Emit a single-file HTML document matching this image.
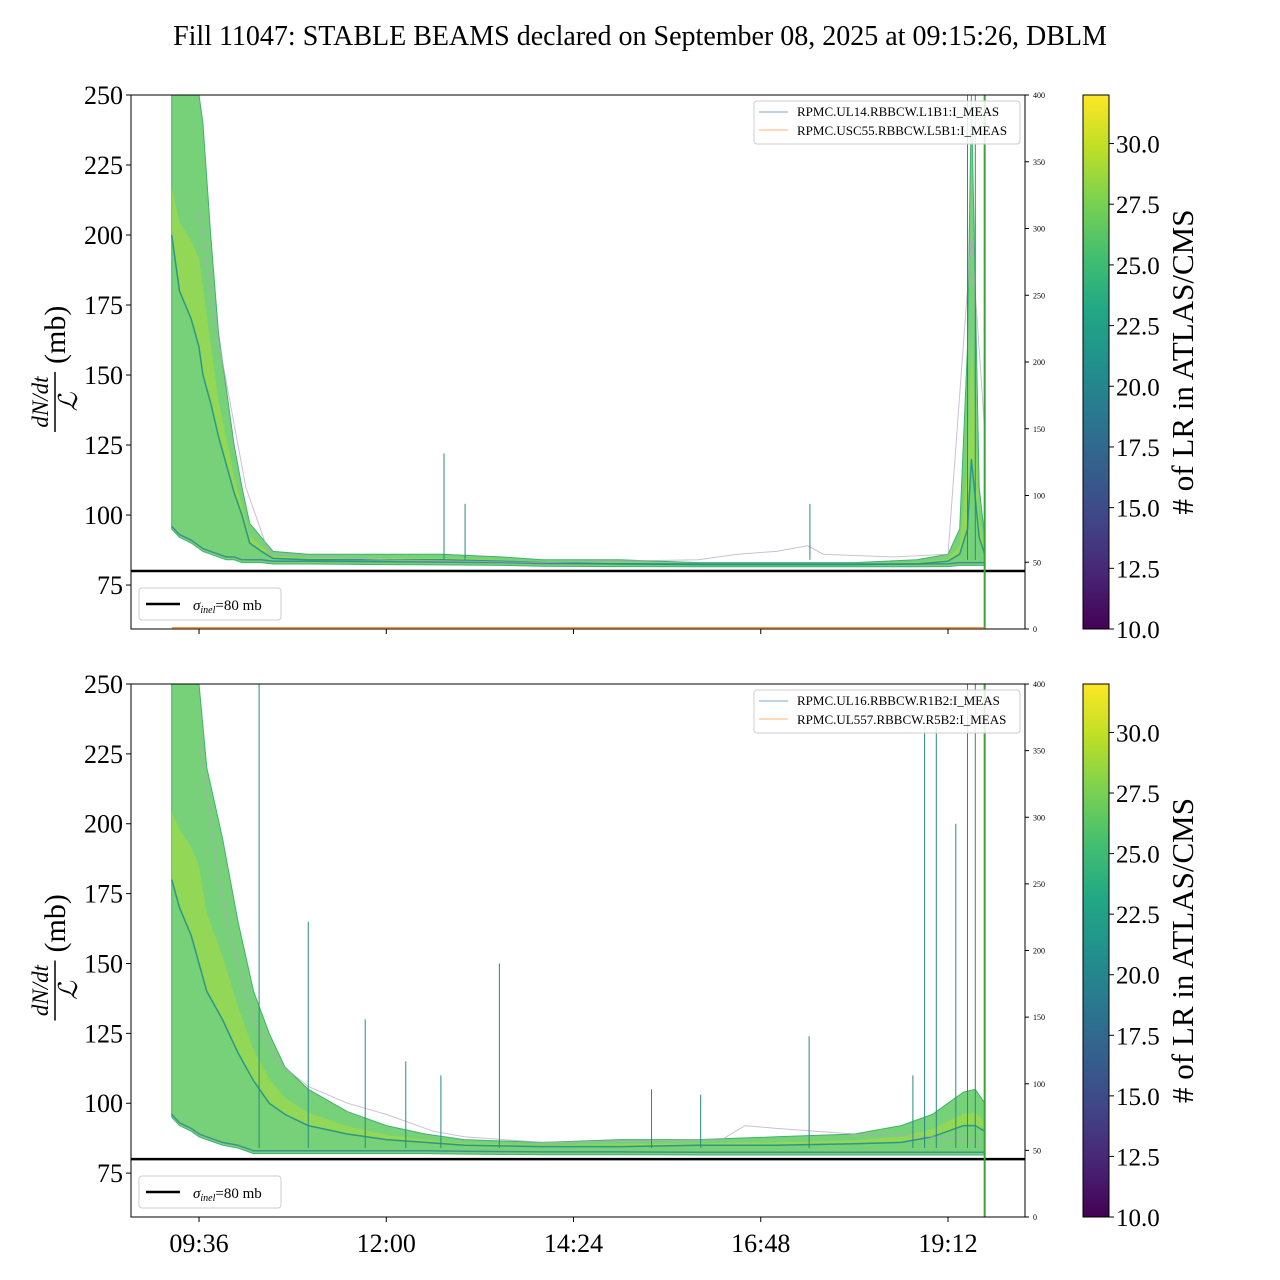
<!DOCTYPE html>
<html><head><meta charset="utf-8">
<style>
html,body{margin:0;padding:0;background:#fff;}
svg{display:block;font-family:"Liberation Serif","DejaVu Serif",serif;}
</style></head>
<body>
<svg id="chart" width="1280" height="1280" viewBox="0 0 1280 1280" xmlns="http://www.w3.org/2000/svg">
<defs>
<linearGradient id="viridis" x1="0" y1="1" x2="0" y2="0">
<stop offset="0" stop-color="#440154"/><stop offset="0.1" stop-color="#482475"/>
<stop offset="0.2" stop-color="#414487"/><stop offset="0.3" stop-color="#355f8d"/>
<stop offset="0.4" stop-color="#2a788e"/><stop offset="0.5" stop-color="#21918c"/>
<stop offset="0.6" stop-color="#22a884"/><stop offset="0.7" stop-color="#44bf70"/>
<stop offset="0.8" stop-color="#7ad151"/><stop offset="0.9" stop-color="#bddf26"/>
<stop offset="1" stop-color="#fde725"/>
</linearGradient>
</defs>
<text x="640" y="45" font-size="28" text-anchor="middle">Fill 11047: STABLE BEAMS declared on September 08, 2025 at 09:15:26, DBLM</text>
<g id="root"></g>
</svg>
<script>
// ---- data (time in decimal hours) ----
const xTickLabels = ["09:36","12:00","14:24","16:48","19:12"];
const xTickHours = [9.6, 12.0, 14.4, 16.8, 19.2];
const yTicks = [75,100,125,150,175,200,225,250];
const rightTicks = [0,50,100,150,200,250,300,350,400];
const cbTicks = [10.0,12.5,15.0,17.5,20.0,22.5,25.0,27.5,30.0];
const sigmaInel = 80;
const dumpHour = 19.67;

// top panel
const topT     = [9.25,9.35,9.5,9.6,9.65,9.75,9.85,9.95,10.05,10.15,10.25,10.4,10.55,11.0,12.0,12.7,13.5,14.0,15.0,16.0,17.0,18.0,18.8,19.2,19.35,19.45,19.5,19.6,19.67];
const topUpper = [250,250,250,250,240,200,165,145,125,110,97,92,87,86,86,86,85,84,84,83,83,83,84,86,95,160,250,110,92];
const topLower = [95,92,90,88,87,86,85,84,84,83,83,83,82.5,82.5,82.3,82.2,82,81.7,81.6,81.5,81.5,81.5,81.5,81.6,82,82,82,82,82];
const topCore  = [200,180,170,160,150,140,128,118,108,100,90,87,84.5,84,84,84,83.5,83,82.5,82.3,82.3,82.3,82.5,83.5,86,95,120,92,86];
const topPurpleT = [9.6,9.8,10.0,10.2,10.5,12,14,16.0,16.5,17.0,17.4,17.6,18.5,19.2,19.5,19.67];
const topPurple  = [210,170,140,110,86,84,83,84,86,87,89,86,85,86,200,130];
const topSpikeT = [12.74,13.01,17.43,19.45,19.55];
const topSpikeV = [122,104,104,250,250];

// bottom panel
const botT     = [9.25,9.35,9.5,9.6,9.7,9.9,10.1,10.3,10.5,10.7,11.0,11.5,12.0,12.5,13.0,14.0,15.0,16.0,17.0,18.0,18.6,19.0,19.2,19.4,19.55,19.67];
const botUpper = [250,250,250,250,220,195,165,140,125,113,105,97,92,89,87,86,87,87,88,89,92,96,100,104,105,100];
const botLower = [95,92,90,88,87,85,84,82,82,82,82,82,82,82,81.8,81.6,81.6,81.5,81.5,81.5,81.5,81.5,81.5,81.5,81.5,81.5];
const botCore  = [180,170,160,150,140,130,118,108,100,96,92,89,87,86,85,84.5,84.5,85,85,85.5,86,88,90,92,92,90];
const botPurpleT = [9.6,9.8,10.0,10.3,10.6,11.0,11.5,12.0,12.6,13,14,16.3,16.6,17.0,17.5,18,19.0,19.67];
const botPurple  = [230,190,160,130,115,106,100,96,90,88,86,87,92,91,90,89,88,86];
const botSpikeT = [10.37,11.0,11.73,12.25,12.7,13.45,15.4,16.03,17.42,18.75,18.9,19.05,19.3,19.45,19.55];
const botSpikeV = [250,165,130,115,110,150,105,103,124,110,235,235,200,250,250];

// ---- scales ----
const X0=131, X1=1025, XMIN=8.728, XMAX=20.187;
const YMIN=59.3, YMAX=250;
function xs(h){return X0+(h-XMIN)/(XMAX-XMIN)*(X1-X0);}
function ysF(top,bot){return v=>bot-(v-YMIN)/(YMAX-YMIN)*(bot-top);}
const NS="http://www.w3.org/2000/svg";
const root=document.getElementById('root');
function el(tag,attrs,parent,txt){const e=document.createElementNS(NS,tag);for(const k in attrs)e.setAttribute(k,attrs[k]);if(txt!==undefined)e.textContent=txt;(parent||root).appendChild(e);return e;}
function clampV(v){return Math.min(YMAX,Math.max(YMIN,v));}

function panel(top,bot,T,U,L,C,PT,PV,ST,SV,legendNames,prefix,showLabels){
  const ys=ysF(top,bot);
  const g=el('g',{});
  
  
  let d='M'+T.map((t,i)=>xs(t).toFixed(1)+','+ys(clampV(U[i])).toFixed(1)).join('L');
  for(let i=T.length-1;i>=0;i--) d+='L'+xs(T[i]).toFixed(1)+','+ys(clampV(L[i])).toFixed(1);
  const band=el('path',{d:d+'Z',fill:'#5ec962','fill-opacity':'0.85',stroke:'#3fb36f','stroke-width':'1'},g);
  
  
  let d2='M'+T.map((t,i)=>xs(t).toFixed(1)+','+ys(clampV(C[i]+(U[i]-C[i])*0.35)).toFixed(1)).join('L');
  for(let i=T.length-1;i>=0;i--) d2+='L'+xs(T[i]).toFixed(1)+','+ys(clampV(C[i])).toFixed(1);
  const yb=el('path',{d:d2+'Z',fill:'#b5de2b','fill-opacity':'0.45'},g);
  
  
  const le=el('polyline',{points:T.map((t,i)=>xs(t).toFixed(1)+','+ys(clampV(L[i]+1)).toFixed(1)).join(' '),fill:'none',stroke:'#2a788e','stroke-width':'1.5','stroke-opacity':'0.7'},g);
  
  
  const core=el('polyline',{points:T.map((t,i)=>xs(t).toFixed(1)+','+ys(clampV(C[i])).toFixed(1)).join(' '),fill:'none',stroke:'#21918c','stroke-width':'1.5','stroke-opacity':'0.9'},g);
  
  
  const pl=el('polyline',{points:PT.map((t,i)=>xs(t).toFixed(1)+','+ys(clampV(PV[i])).toFixed(1)).join(' '),fill:'none',stroke:'#b9a3c6','stroke-width':'1','stroke-opacity':'0.7'},g);
  
  
  ST.forEach((t,i)=>{
    const s=el('line',{x1:xs(t),x2:xs(t),y1:ys(84),y2:ys(clampV(SV[i])),stroke:'#2a8a7e','stroke-width':'1'},g);
    
    
  });
  const sl=el('line',{x1:X0,x2:X1,y1:ys(sigmaInel),y2:ys(sigmaInel),stroke:'#000','stroke-width':'2.5'},g);
  
  
  const dl=el('line',{x1:xs(dumpHour),x2:xs(dumpHour),y1:top,y2:bot,stroke:'#3aa33a','stroke-width':'2'},g);
  
  
  const fr=el('rect',{x:X0,y:top,width:X1-X0,height:bot-top,fill:'none',stroke:'#000','stroke-width':'1'},g);
  
  
  yTicks.forEach(v=>{
    const y=ys(v);
    el('line',{x1:X0-5,x2:X0,y1:y,y2:y,stroke:'#000'},g);
    const t=el('text',{x:X0-8,y:y+9,'font-size':'26','text-anchor':'end'},g,String(v));
    
    
  });
  rightTicks.forEach(v=>{
    const y=bot-v/400*(bot-top);
    el('line',{x1:X1,x2:X1+4,y1:y,y2:y,stroke:'#000'},g);
    const t=el('text',{x:X1+8,y:y+3,'font-size':'8'},g,String(v));
    
    
  });
  xTickHours.forEach((h,i)=>{
    el('line',{x1:xs(h),x2:xs(h),y1:bot,y2:bot+5,stroke:'#000'},g);
    if(showLabels){
      const t=el('text',{x:xs(h),y:bot+35,'font-size':'26','text-anchor':'middle'},g,xTickLabels[i]);
      
      
    }
  });
  const yl=el('g',{transform:'translate(55,'+((top+bot)/2)+') rotate(-90)'},g);
  
  
  el('text',{x:-40,y:-7,'font-size':'23','font-style':'italic','text-anchor':'middle'},yl,'dN/dt');
  el('line',{x1:-70,x2:-10,y1:0,y2:0,stroke:'#000','stroke-width':'1.5'},yl);
  el('text',{x:-40,y:22,'font-size':'26','font-style':'italic','text-anchor':'middle'},yl,'ℒ');
  el('text',{x:-2,y:10,'font-size':'30'},yl,'(mb)');
  const lg=el('g',{},g);
  
  
  el('rect',{x:139,y:bot-41,width:142,height:32,rx:3,fill:'#fff',stroke:'#ccc'},lg);
  el('line',{x1:146,x2:180,y1:bot-25,y2:bot-25,stroke:'#000','stroke-width':'2.5'},lg);
  const st=el('text',{x:193,y:bot-19,'font-size':'15'},lg);
  el('tspan',{'font-style':'italic'},st,'σ');
  el('tspan',{'font-style':'italic','font-size':'10',dy:'3'},st,'inel');
  el('tspan',{dy:'-3'},st,'=80 mb');
  const sg=el('g',{},g);
  
  
  el('rect',{x:754,y:top+6,width:266,height:43,rx:3,fill:'#fff','fill-opacity':'0.85',stroke:'#ccc'},sg);
  el('line',{x1:759,x2:788,y1:top+17,y2:top+17,stroke:'#1f77b4','stroke-width':'1','stroke-opacity':'0.6'},sg);
  el('line',{x1:759,x2:788,y1:top+35,y2:top+35,stroke:'#ff7f0e','stroke-width':'1','stroke-opacity':'0.6'},sg);
  el('text',{x:797,y:top+21,'font-size':'13'},sg,legendNames[0]);
  el('text',{x:797,y:top+40,'font-size':'13'},sg,legendNames[1]);
  const cb=el('g',{},g);
  
  
  el('rect',{x:1083,y:top,width:26,height:bot-top,fill:'url(#viridis)',stroke:'#000','stroke-width':'1'},cb);
  cbTicks.forEach(v=>{
    const y=bot-(v-10)/22*(bot-top);
    el('line',{x1:1109,x2:1114,y1:y,y2:y,stroke:'#000'},cb);
    el('text',{x:1116,y:y+9,'font-size':'25'},cb,v.toFixed(1));
  });
  el('text',{transform:'translate(1193,'+((top+bot)/2)+') rotate(-90)','font-size':'31','text-anchor':'middle'},cb,'# of LR in ATLAS/CMS');
  return ys;
}
panel(95,629,topT,topUpper,topLower,topCore,topPurpleT,topPurple,topSpikeT,topSpikeV,
  ['RPMC.UL14.RBBCW.L1B1:I_MEAS','RPMC.USC55.RBBCW.L5B1:I_MEAS'],'top',false);
const ob=el('line',{x1:xs(9.25),x2:xs(dumpHour),y1:628,y2:628,stroke:'#d9782a','stroke-width':'1.5'});


panel(684,1217,botT,botUpper,botLower,botCore,botPurpleT,botPurple,botSpikeT,botSpikeV,
  ['RPMC.UL16.RBBCW.R1B2:I_MEAS','RPMC.UL557.RBBCW.R5B2:I_MEAS'],'bottom',true);
</script>
</body></html>
